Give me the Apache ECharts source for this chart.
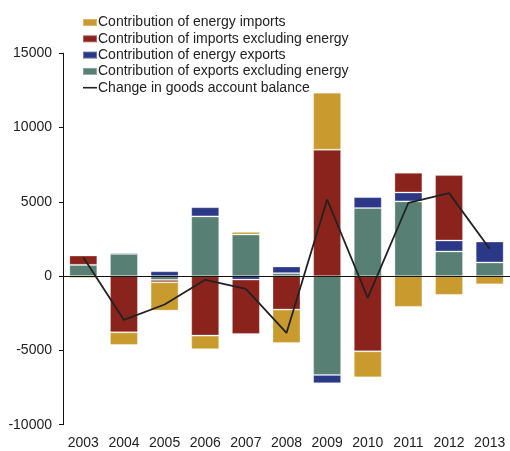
<!DOCTYPE html>
<html>
<head>
<meta charset="utf-8">
<script src="https://cdn.jsdelivr.net/npm/echarts@6/dist/echarts.min.js"></script>
<style>
  html, body { margin: 0; padding: 0; background: #fff; }
  #chart { width: 510px; height: 451px; }
</style>
</head>
<body>
<div id="chart"></div>
<script>
// Goods account balance: yearly change and its contributions
const years = ['2003', '2004', '2005', '2006', '2007', '2008', '2009', '2010', '2011', '2012', '2013'];
const exportsExclEnergy = [760, 1500, -250, 4020, 2800, 200, -6650, 4580, 5030, 1660, 920];
const energyExports = [0, 90, 330, 620, -230, 450, -560, 740, 600, 740, 1410];
const importsExclEnergy = [630, -3780, -160, -4000, -3660, -2250, 8510, -5060, 1330, 4400, 0];
const energyImports = [-130, -850, -1910, -920, 180, -2250, 3840, -1750, -2070, -1260, -550];
const balanceChange = [1270, -2950, -1910, -250, -860, -3820, 5160, -1460, 4940, 5590, 1840];
const yTicks = { min: -10000, max: 15000, step: 5000 };

const names = {
  energyImports: 'Contribution of energy imports',
  importsExcl: 'Contribution of imports excluding energy',
  energyExports: 'Contribution of energy exports',
  exportsExcl: 'Contribution of exports excluding energy',
  balance: 'Change in goods account balance'
};

const colors = {
  gold: '#C99B2E',
  red: '#8A231C',
  blue: '#2B3888',
  green: '#587F73',
  line: '#222222'
};

function barSeries(name, data, color) {
  return {
    name: name,
    type: 'bar',
    stack: 'contrib',
    data: data,
    barWidth: 28,
    itemStyle: { color: color, borderColor: 'rgba(255,255,255,0.3)', borderWidth: 1 },
    emphasis: { disabled: true }
  };
}

const chart = echarts.init(document.getElementById('chart'), null, { renderer: 'canvas' });
chart.setOption({
  animation: false,
  backgroundColor: '#ffffff',
  textStyle: { fontFamily: 'Liberation Sans, Arial, sans-serif' },
  legend: {
    orient: 'vertical',
    left: 77,
    top: 10.5,
    itemWidth: 14,
    itemHeight: 7,
    itemGap: 2.3,
    selectedMode: false,
    textStyle: { fontSize: 14, color: '#222', padding: [0, 0, 0, -4] },
    data: [
      { name: names.energyImports, icon: 'rect' },
      { name: names.importsExcl, icon: 'rect' },
      { name: names.energyExports, icon: 'rect' },
      { name: names.exportsExcl, icon: 'rect' },
      { name: names.balance, icon: 'path://M0,0H14V1.6H0Z', itemStyle: { color: colors.line } }
    ]
  },
  grid: { left: 63, right: -3, top: 53.3, bottom: 26.3, containLabel: false },
  xAxis: {
    type: 'category',
    data: years,
    axisLine: { show: false, onZero: false },
    axisTick: { show: false },
    axisLabel: { fontSize: 14, color: '#222', margin: 11 }
  },
  yAxis: {
    type: 'value',
    min: yTicks.min,
    max: yTicks.max,
    interval: yTicks.step,
    axisLine: { show: true, onZero: false, lineStyle: { color: '#111', width: 1 } },
    axisTick: { show: true, length: 4, lineStyle: { color: '#111' } },
    splitLine: { show: false },
    axisLabel: { fontSize: 14, color: '#222', margin: 11, formatter: (v) => String(v) }
  },
  series: [
    barSeries(names.exportsExcl, exportsExclEnergy, colors.green),
    barSeries(names.energyExports, energyExports, colors.blue),
    barSeries(names.importsExcl, importsExclEnergy, colors.red),
    barSeries(names.energyImports, energyImports, colors.gold),
    {
      name: names.balance,
      type: 'line',
      data: balanceChange,
      symbol: 'none',
      z: 5,
      lineStyle: { color: colors.line, width: 1.8 },
      itemStyle: { color: colors.line },
      markLine: {
        silent: true,
        symbol: 'none',
        label: { show: false },
        lineStyle: { color: '#111', width: 1, type: 'solid' },
        data: [{ yAxis: 0 }]
      }
    }
  ]
});
</script>
</body>
</html>
